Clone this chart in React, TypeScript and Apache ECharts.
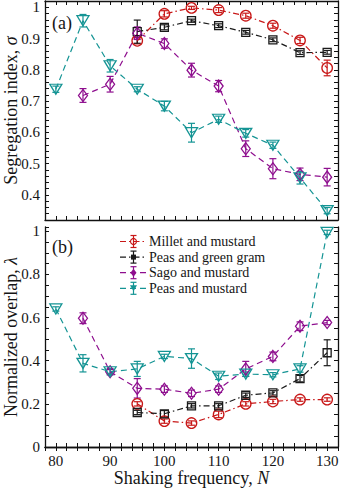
import React, { useEffect, useRef } from "react";
import * as echarts from "echarts";

// ---- Data ----
const freqMillet = [95, 100, 105, 110, 115, 120, 125, 130];
const freqPeasGram = [95, 100, 105, 110, 115, 120, 125, 130];
const freqSago = [85, 90, 95, 100, 105, 110, 115, 120, 125, 130];
const freqPeasMustard = [80, 85, 90, 95, 100, 105, 110, 115, 120, 125, 130];

// (a) segregation index sigma
const sigmaMillet = [0.893, 0.979, 0.998, 0.991, 0.973, 0.941, 0.894, 0.806];
const sigmaMilletErr = [0.01, 0.01, 0.005, 0.008, 0.008, 0.008, 0.01, 0.025];
const sigmaPeasGram = [0.922, 0.936, 0.957, 0.941, 0.92, 0.896, 0.855, 0.856];
const sigmaPeasGramErr = [0.037, 0.008, 0.005, 0.006, 0.006, 0.006, 0.006, 0.006];
const sigmaSago = [0.718, 0.754, 0.917, 0.884, 0.799, 0.748, 0.548, 0.484, 0.466, 0.457];
const sigmaSagoErr = [0.022, 0.025, 0.02, 0.015, 0.022, 0.018, 0.025, 0.032, 0.02, 0.028];
const sigmaPeasMustard = [0.738, 0.957, 0.813, 0.738, 0.684, 0.599, 0.642, 0.597, 0.559, 0.455, 0.35];
const sigmaPeasMustardErr = [0.01, 0.02, 0.02, 0.008, 0.015, 0.03, 0.01, 0.012, 0.01, 0.02, 0.01];

// (b) normalized overlap lambda
const lambdaMillet = [0.2, 0.12, 0.111, 0.151, 0.2, 0.211, 0.22, 0.22];
const lambdaMilletErr = [0.01, 0.01, 0.01, 0.015, 0.01, 0.01, 0.008, 0.008];
const lambdaPeasGram = [0.16, 0.154, 0.191, 0.191, 0.24, 0.251, 0.317, 0.437];
const lambdaPeasGramErr = [0.01, 0.015, 0.01, 0.01, 0.01, 0.01, 0.015, 0.06];
const lambdaSago = [0.597, 0.349, 0.272, 0.268, 0.249, 0.268, 0.362, 0.42, 0.56, 0.577];
const lambdaSagoErr = [0.025, 0.01, 0.045, 0.015, 0.015, 0.015, 0.035, 0.02, 0.02, 0.01];
const lambdaPeasMustard = [0.64, 0.388, 0.349, 0.362, 0.42, 0.41, 0.328, 0.338, 0.335, 0.362, 0.995];
const lambdaPeasMustardErr = [0.01, 0.04, 0.015, 0.035, 0.01, 0.045, 0.015, 0.01, 0.01, 0.015, 0.01];

const seriesNames = ["Millet and mustard", "Peas and green gram", "Sago and mustard", "Peas and mustard"];
const xTickLabels = [80, 90, 100, 110, 120, 130];
const panelLabels = ["(a)", "(b)"];

// ---- Styles ----
const FONT = "'Liberation Serif', 'Times New Roman', serif";
const TEXT = "#151515";
const colors = ["#c81818", "#1a1a1a", "#8e0e8e", "#149494"];
const dashes = [
  [6, 3, 1.5, 3],
  [6, 3, 1.5, 3],
  [6, 4],
  [6, 4],
];
const symbols = ["circle", "rect", "diamond", "triangle"];
const symbolSizes: any[] = [10.5, 8, [9, 12], [12, 10]];
const symbolRotates = [0, 0, 0, 180];

const freqs = [freqMillet, freqPeasGram, freqSago, freqPeasMustard];
const panelVals = [
  [sigmaMillet, sigmaPeasGram, sigmaSago, sigmaPeasMustard],
  [lambdaMillet, lambdaPeasGram, lambdaSago, lambdaPeasMustard],
];
const panelErrs = [
  [sigmaMilletErr, sigmaPeasGramErr, sigmaSagoErr, sigmaPeasMustardErr],
  [lambdaMilletErr, lambdaPeasGramErr, lambdaSagoErr, lambdaPeasMustardErr],
];

function buildOption() {
  const axisLine = { show: true, lineStyle: { color: "#111", width: 1.3 } };
  const tick = { show: true, inside: true, length: 4, lineStyle: { color: "#111", width: 1 } };
  const labelStyle = { fontFamily: FONT, fontSize: 15, color: TEXT };

  const xBase = (gridIndex: number, position: string, showLabel: boolean, extra: any = {}) => ({
    type: "value",
    gridIndex,
    position,
    min: 78,
    max: 132,
    interval: 2,
    axisLine,
    axisTick: tick,
    splitLine: { show: false },
    axisLabel: {
      show: showLabel,
      margin: 6,
      ...labelStyle,
      formatter: (v: number) =>
        xTickLabels.indexOf(Math.round(v)) >= 0 && Math.abs(v - Math.round(v)) < 1e-6 ? String(Math.round(v)) : "",
    },
    ...extra,
  });

  const yBase = (
    gridIndex: number,
    position: string,
    showLabel: boolean,
    min: number,
    max: number,
    interval: number,
    labelStep: number,
    extra: any = {}
  ) => ({
    type: "value",
    gridIndex,
    position,
    min,
    max,
    interval,
    axisLine,
    axisTick: tick,
    splitLine: { show: false },
    axisLabel: {
      show: showLabel,
      margin: 5,
      ...labelStyle,
      formatter: (v: number) => {
        const k = v / labelStep;
        if (Math.abs(k - Math.round(k)) < 1e-6 && v <= 1 + 1e-9) {
          return String(Math.round(k * labelStep * 100) / 100);
        }
        return "";
      },
    },
    ...extra,
  });

  const nameStyle = (sz: number) => ({
    fontFamily: FONT,
    fontSize: sz,
    color: TEXT,
    rich: { i: { fontFamily: FONT, fontSize: sz, color: TEXT, fontStyle: "italic" } },
  });

  const xAxis = [
    xBase(0, "bottom", false),
    xBase(0, "top", false),
    xBase(1, "bottom", true, {
      name: "Shaking frequency, {i|N}",
      nameLocation: "middle",
      nameGap: 22,
      nameMoveOverlap: false,
      nameTextStyle: nameStyle(18),
    }),
    xBase(1, "top", false),
  ];
  const yAxis = [
    yBase(0, "left", true, 0.32, 1.02, 0.02, 0.1, {
      name: "Segregation index, {i|σ}",
      nameLocation: "middle",
      nameGap: 25,
      nameMoveOverlap: false,
      nameTextStyle: nameStyle(18),
    }),
    yBase(0, "right", false, 0.32, 1.02, 0.02, 0.1),
    yBase(1, "left", true, 0, 1.02, 0.05, 0.2, {
      name: "Normalized overlap, {i|λ}",
      nameLocation: "middle",
      nameGap: 25,
      nameMoveOverlap: false,
      nameTextStyle: nameStyle(18),
    }),
    yBase(1, "right", false, 0, 1.02, 0.05, 0.2),
  ];

  const series: any[] = [];
  for (let p = 0; p < 2; p++) {
    for (let s = 0; s < 4; s++) {
      const c = colors[s];
      const vals = panelVals[p][s];
      const errs = panelErrs[p][s];
      const fx = freqs[s];
      series.push({
        type: "custom",
        name: seriesNames[s] + " error",
        xAxisIndex: p * 2,
        yAxisIndex: p * 2,
        z: 2,
        data: fx.map((f, i) => [f, vals[i] - errs[i], vals[i] + errs[i]]),
        encode: { x: 0, y: [1, 2] },
        renderItem: (params: any, api: any) => {
          const x = api.value(0);
          const lo = api.coord([x, api.value(1)]);
          const hi = api.coord([x, api.value(2)]);
          const hw = 3.5;
          const st = { stroke: c, lineWidth: 1.2 };
          return {
            type: "group",
            children: [
              { type: "line", shape: { x1: lo[0], y1: lo[1], x2: hi[0], y2: hi[1] }, style: st },
              { type: "line", shape: { x1: lo[0] - hw, y1: lo[1], x2: lo[0] + hw, y2: lo[1] }, style: st },
              { type: "line", shape: { x1: hi[0] - hw, y1: hi[1], x2: hi[0] + hw, y2: hi[1] }, style: st },
            ],
          };
        },
      });
      series.push({
        type: "line",
        name: seriesNames[s],
        xAxisIndex: p * 2,
        yAxisIndex: p * 2,
        z: 3,
        data: fx.map((f, i) => [f, vals[i]]),
        symbol: symbols[s],
        symbolSize: symbolSizes[s],
        symbolRotate: symbolRotates[s],
        showAllSymbol: true,
        itemStyle: { color: "rgba(0,0,0,0)", borderColor: c, borderWidth: 1.3 },
        lineStyle: { color: c, width: 1.2, type: dashes[s] },
        emphasis: { disabled: true },
      });
    }
  }

  // custom legend
  const legendChildren: any[] = [];
  const lx = 120;
  const ly = 241.5;
  const step = 15.6;
  for (let s = 0; s < 4; s++) {
    const c = colors[s];
    const y = ly + s * step;
    const cx = lx + 13.5;
    legendChildren.push({
      type: "line",
      shape: { x1: lx, y1: y, x2: lx + 27, y2: y },
      style: { stroke: c, lineWidth: 1.2, lineDash: dashes[s] },
    });
    legendChildren.push({ type: "line", shape: { x1: cx, y1: y - 6, x2: cx, y2: y + 6 }, style: { stroke: c, lineWidth: 1.2 } });
    legendChildren.push({ type: "line", shape: { x1: cx - 3, y1: y - 6, x2: cx + 3, y2: y - 6 }, style: { stroke: c, lineWidth: 1.2 } });
    legendChildren.push({ type: "line", shape: { x1: cx - 3, y1: y + 6, x2: cx + 3, y2: y + 6 }, style: { stroke: c, lineWidth: 1.2 } });
    if (s === 0) {
      legendChildren.push({ type: "circle", shape: { cx, cy: y, r: 3 }, style: { fill: "none", stroke: c, lineWidth: 1.2 } });
    } else if (s === 1) {
      legendChildren.push({ type: "rect", shape: { x: cx - 2.5, y: y - 2.5, width: 5, height: 5 }, style: { fill: c } });
    } else if (s === 2) {
      legendChildren.push({
        type: "polygon",
        shape: { points: [[cx, y - 4], [cx + 3, y], [cx, y + 4], [cx - 3, y]] },
        style: { fill: c },
      });
    } else {
      legendChildren.push({
        type: "polygon",
        shape: { points: [[cx - 3.5, y - 3], [cx + 3.5, y - 3], [cx, y + 3]] },
        style: { fill: c },
      });
    }
    legendChildren.push({
      type: "text",
      x: lx + 29,
      y,
      style: { text: seriesNames[s], fontFamily: FONT, fontSize: 14, fill: TEXT, verticalAlign: "middle", align: "left" },
    });
  }

  return {
    animation: false,
    backgroundColor: "#ffffff",
    grid: [
      { left: 45, top: 1, width: 293, height: 219, outerBoundsMode: "none", containLabel: false },
      { left: 45, top: 227, width: 293, height: 220, outerBoundsMode: "none", containLabel: false },
    ],
    xAxis,
    yAxis,
    series,
    graphic: [
      {
        type: "text",
        x: 52,
        y: 23,
        style: { text: panelLabels[0], fontFamily: FONT, fontSize: 18, fill: TEXT, verticalAlign: "middle", align: "left" },
      },
      {
        type: "text",
        x: 52,
        y: 247,
        style: { text: panelLabels[1], fontFamily: FONT, fontSize: 18, fill: TEXT, verticalAlign: "middle", align: "left" },
      },
      { type: "group", children: legendChildren },
    ],
  };
}

export default function App() {
  const ref = useRef<HTMLDivElement>(null);
  useEffect(() => {
    if (!ref.current) return;
    const chart = echarts.init(ref.current, null, { renderer: "svg" });
    chart.setOption(buildOption() as any);
    return () => chart.dispose();
  }, []);
  return (
    <div
      ref={ref}
      style={{ position: "absolute", left: 0, top: 0, width: 340, height: 488, background: "#fff" }}
    />
  );
}
